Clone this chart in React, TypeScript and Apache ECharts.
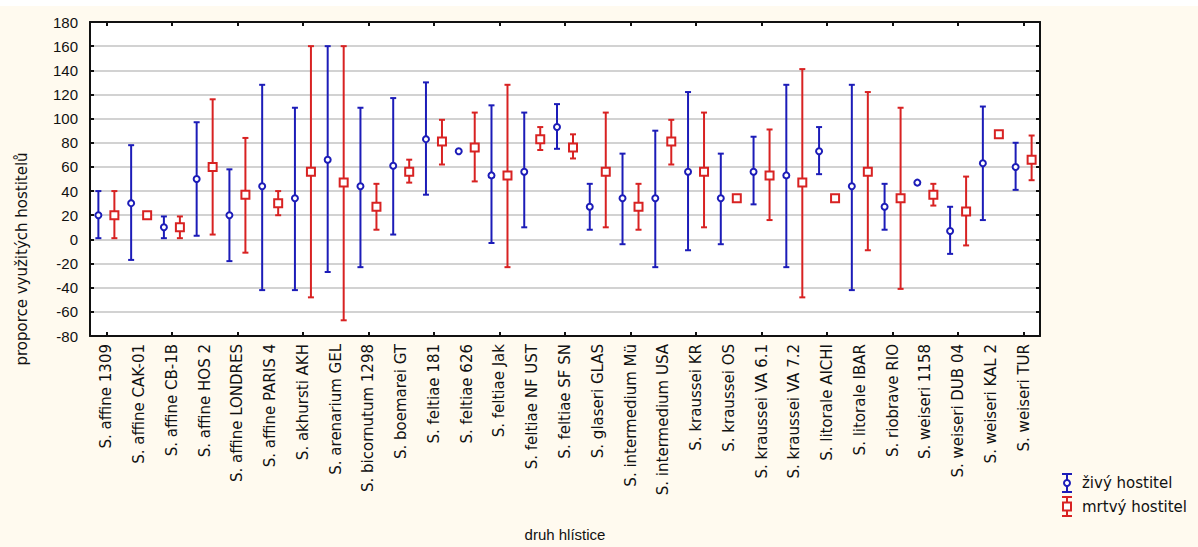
import React, { useEffect, useRef } from "react";
import * as echarts from "echarts";

const categories = [
  "S. affine 1309", "S. affine CAK-01", "S. affine CB-1B", "S. affine HOS 2", "S. affine LONDRES",
  "S. affine PARIS 4", "S. akhursti AKH", "S. arenarium GEL", "S. bicornutum 1298", "S. boemarei GT",
  "S. feltiae 181", "S. feltiae 626", "S. feltiae Jak", "S. feltiae NF UST", "S. feltiae SF SN",
  "S. glaseri GLAS", "S. intermedium Mü", "S. intermedium USA", "S. kraussei KR", "S. kraussei OS",
  "S. kraussei VA 6.1", "S. kraussei VA 7.2", "S. litorale AICHI", "S. litorale IBAR", "S. riobrave RIO",
  "S. weiseri 1158", "S. weiseri DUB 04", "S. weiseri KAL 2", "S. weiseri TUR",
];

// živý hostitel
const liveMean = [20, 30, 10, 50, 20, 44, 34, 66, 44, 61, 83, 73, 53, 56, 93, 27, 34, 34, 56, 34, 56, 53, 73, 44, 27, 47, 7, 63, 60];
const liveLow: (number | null)[] = [1, -17, 1, 3, -18, -42, -42, -27, -23, 4, 37, null, -3, 10, 75, 8, -4, -23, -9, -4, 29, -23, 54, -42, 8, null, -12, 16, 41];
const liveHigh: (number | null)[] = [40, 78, 19, 97, 58, 128, 109, 160, 109, 117, 130, null, 111, 105, 112, 46, 71, 90, 122, 71, 85, 128, 93, 128, 46, null, 27, 110, 80];

// mrtvý hostitel
const deadMean = [20, 20, 10, 60, 37, 30, 56, 47, 27, 56, 81, 76, 53, 83, 76, 56, 27, 81, 56, 34, 53, 47, 34, 56, 34, 37, 23, 87, 66];
const deadLow: (number | null)[] = [1, null, 1, 4, -11, 20, -48, -67, 8, 47, 62, 48, -23, 74, 67, 10, 8, 62, 10, null, 16, -48, null, -9, -41, 28, -5, null, 49];
const deadHigh: (number | null)[] = [40, null, 19, 116, 84, 40, 160, 160, 46, 66, 99, 105, 128, 93, 87, 105, 46, 99, 105, null, 91, 141, null, 122, 109, 46, 52, null, 86];

const yTicks = { min: -80, max: 180, interval: 20 };

const BLUE = "#1c1cb8";
const RED = "#d82222";
const FONT = "'Liberation Sans', Arial, sans-serif";
const WIDE = "'DejaVu Sans', sans-serif";

function buildData(mean: number[], low: (number | null)[], high: (number | null)[]) {
  return mean.map((m, i) => [i, m, low[i] == null ? m : low[i], high[i] == null ? m : high[i]]);
}

function makeRender(color: string, offset: number, marker: "circle" | "square") {
  return (params: any, api: any) => {
    const idx = api.value(0);
    const mean = api.value(1);
    const lo = api.value(2);
    const hi = api.value(3);
    const c = api.coord([idx, mean]);
    const x = c[0] + offset;
    const y = c[1];
    const children: any[] = [];
    if (Math.abs(hi - lo) > 0.5) {
      const yLo = api.coord([idx, lo])[1];
      const yHi = api.coord([idx, hi])[1];
      const st = { stroke: color, lineWidth: 2 };
      children.push({ type: "line", shape: { x1: x, y1: yLo, x2: x, y2: yHi }, style: st });
      children.push({ type: "line", shape: { x1: x - 3, y1: yLo, x2: x + 3, y2: yLo }, style: st });
      children.push({ type: "line", shape: { x1: x - 3, y1: yHi, x2: x + 3, y2: yHi }, style: st });
    }
    if (marker === "circle") {
      children.push({ type: "circle", shape: { cx: x, cy: y, r: 3 }, style: { stroke: color, lineWidth: 2, fill: "#fff" } });
    } else {
      children.push({ type: "rect", shape: { x: x - 4, y: y - 4, width: 8, height: 8 }, style: { stroke: color, lineWidth: 2, fill: "#fff" } });
    }
    return { type: "group", children };
  };
}

function legendIcon(x: number, yTop: number, yBot: number, color: string, marker: "circle" | "square") {
  const st = { stroke: color, lineWidth: 2 };
  const yc = (yTop + yBot) / 2;
  const items: any[] = [
    { type: "line", shape: { x1: x, y1: yTop, x2: x, y2: yBot }, style: st },
    { type: "line", shape: { x1: x - 5, y1: yTop, x2: x + 5, y2: yTop }, style: st },
    { type: "line", shape: { x1: x - 5, y1: yBot, x2: x + 5, y2: yBot }, style: st },
  ];
  if (marker === "circle") items.push({ type: "circle", shape: { cx: x, cy: yc, r: 3 }, style: { ...st, fill: "#fff" } });
  else items.push({ type: "rect", shape: { x: x - 4, y: yc - 4, width: 8, height: 8 }, style: { ...st, fill: "#fff" } });
  return items;
}

export default function App() {
  const ref = useRef<HTMLDivElement>(null);
  useEffect(() => {
    if (!ref.current) return;
    const chart = echarts.init(ref.current, null, { renderer: "svg" });
    const axisLineStyle = { color: "#111", width: 2 };
    const tickStyle = { show: true, inside: true, length: 4, lineStyle: { color: "#111", width: 2 } };
    chart.setOption({
      animation: false,
      backgroundColor: "#fffaef",
      textStyle: { fontFamily: FONT },
      grid: { left: 90, top: 22, width: 950, height: 315, show: true, backgroundColor: "#fff", borderWidth: 0 },
      xAxis: [
        {
          type: "category",
          data: categories,
          position: "bottom",
          boundaryGap: true,
          axisLine: { show: true, onZero: false, lineStyle: axisLineStyle },
          axisTick: { ...tickStyle, alignWithLabel: true, interval: 1 },
          axisLabel: { interval: 0, rotate: 90, margin: 8, fontSize: 15, color: "#111", fontFamily: WIDE },
          name: "druh hlístice",
          nameLocation: "middle",
          nameGap: 191,
          nameTextStyle: { fontSize: 15, color: "#111", fontFamily: FONT },
          splitLine: { show: false },
        },
        {
          type: "category",
          data: categories,
          position: "top",
          boundaryGap: true,
          axisLine: { show: true, onZero: false, lineStyle: axisLineStyle },
          axisTick: { ...tickStyle, alignWithLabel: true, interval: 1 },
          axisLabel: { show: false },
          splitLine: { show: false },
        },
      ],
      yAxis: [
        {
          type: "value",
          min: yTicks.min,
          max: yTicks.max,
          interval: yTicks.interval,
          position: "left",
          axisLine: { show: true, onZero: false, lineStyle: axisLineStyle },
          axisTick: tickStyle,
          axisLabel: { fontSize: 15, color: "#111", margin: 12, fontFamily: FONT },
          splitLine: { show: true, lineStyle: { color: "#d2d2d2", width: 2 } },
        },
        {
          type: "value",
          min: yTicks.min,
          max: yTicks.max,
          interval: yTicks.interval,
          position: "right",
          axisLine: { show: true, onZero: false, lineStyle: axisLineStyle },
          axisTick: tickStyle,
          axisLabel: { show: false },
          splitLine: { show: false },
        },
      ],
      series: [
        {
          name: "živý hostitel",
          type: "custom",
          xAxisIndex: 0,
          yAxisIndex: 0,
          renderItem: makeRender(BLUE, -8, "circle"),
          encode: { x: 0, y: 1 },
          data: buildData(liveMean, liveLow, liveHigh),
          z: 5,
        },
        {
          name: "mrtvý hostitel",
          type: "custom",
          xAxisIndex: 0,
          yAxisIndex: 0,
          renderItem: makeRender(RED, 8, "square"),
          encode: { x: 0, y: 1 },
          data: buildData(deadMean, deadLow, deadHigh),
          z: 5,
        },
      ],
      graphic: [
        { type: "rect", shape: { x: 0, y: 0, width: 1198, height: 6 }, style: { fill: "#fff" }, silent: true },
        {
          type: "text",
          x: 22,
          y: 259,
          rotation: Math.PI / 2,
          style: { text: "proporce využitých hostitelů", fontSize: 15, fill: "#111", fontFamily: WIDE, align: "center", verticalAlign: "middle" },
        },
        ...legendIcon(1067, 474, 492, BLUE, "circle"),
        ...legendIcon(1067, 497, 516, RED, "square"),
        { type: "text", x: 1082, y: 483, style: { text: "živý hostitel", fontSize: 15, fill: "#111", fontFamily: WIDE, verticalAlign: "middle" } },
        { type: "text", x: 1082, y: 507, style: { text: "mrtvý hostitel", fontSize: 15, fill: "#111", fontFamily: WIDE, verticalAlign: "middle" } },
      ],
    });
    return () => chart.dispose();
  }, []);
  return (
    <div
      ref={ref}
      style={{ position: "fixed", left: 0, top: 0, width: 1198, height: 547 }}
    />
  );
}
